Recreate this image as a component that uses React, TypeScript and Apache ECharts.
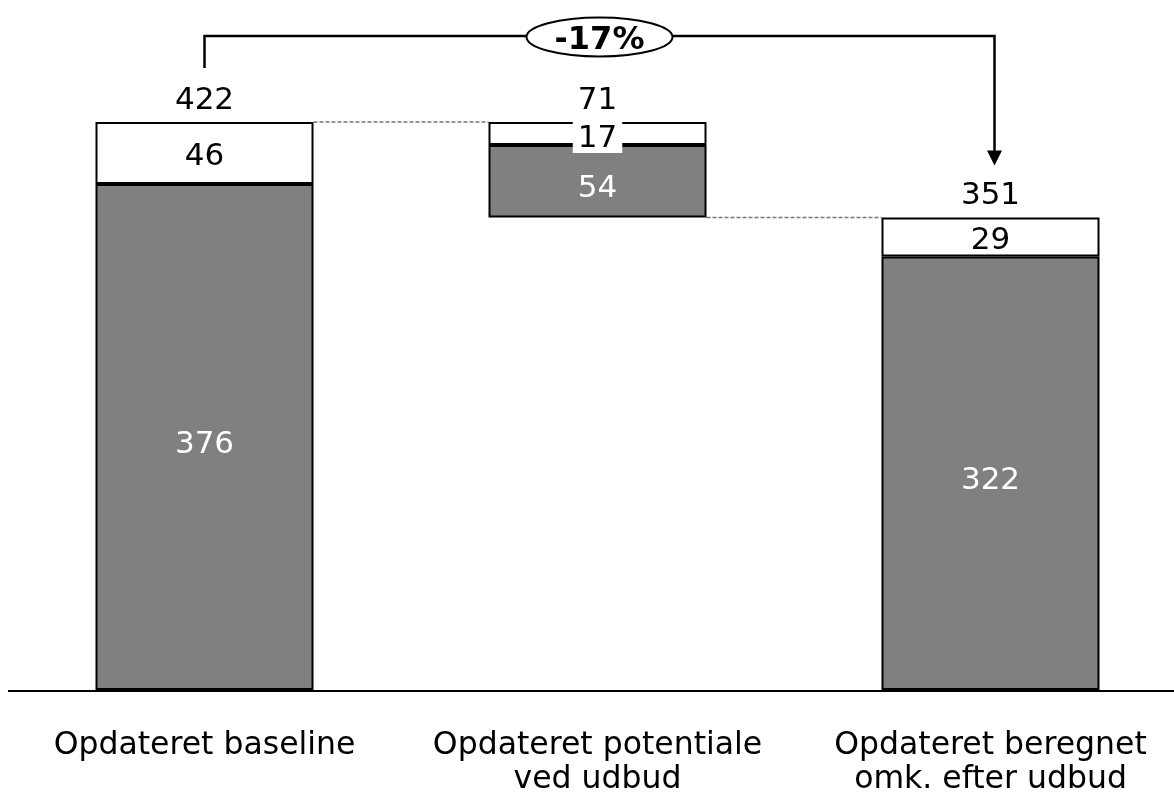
import React, { useEffect, useRef } from 'react';
import * as echarts from 'echarts';

const categories = ['Opdateret baseline', 'Opdateret potentiale\nved udbud', 'Opdateret beregnet\nomk. efter udbud'];
const baseValues = [0, 351, 0];
const coreValues = [376, 54, 322];
const topValues = [46, 17, 29];
const totalLabels = [422, 71, 351];
const changeLabel = '-17%';

const FONT = 'DejaVu Sans';
const NUM_SIZE = 31;

export default function App() {
  const ref = useRef<HTMLDivElement>(null);
  useEffect(() => {
    if (!ref.current) return;
    const chart = echarts.init(ref.current, undefined, { renderer: 'svg' });
    const barWidth = 218;
    chart.setOption({
      animation: false,
      grid: { left: 8, top: 122, width: 1179, height: 568, containLabel: false, outerBoundsMode: 'none' },
      xAxis: {
        type: 'category',
        data: categories,
        axisLine: { show: false },
        axisTick: { show: false },
        axisLabel: { interval: 0, color: '#000', fontFamily: FONT, fontSize: 31.5, lineHeight: 34, margin: 36 },
      },
      yAxis: { type: 'value', min: 0, max: 422, show: false, splitLine: { show: false } },
      series: [
        {
          type: 'bar', stack: 'w', data: baseValues, barWidth,
          itemStyle: { color: 'transparent' }, silent: true,
        },
        {
          type: 'bar', stack: 'w', data: coreValues, barWidth,
          itemStyle: { color: '#808080', borderColor: '#000', borderWidth: 2 },
          label: { show: true, position: 'inside', color: '#fff', fontFamily: FONT, fontSize: NUM_SIZE, offset: [0, 5] },
        },
        {
          type: 'bar', stack: 'w', barWidth,
          data: topValues.map((v, i) => i === 1 ? {
            value: v,
            label: { backgroundColor: '#fff', padding: [1, 5, 1, 5], offset: [0, 3] },
          } : v),
          itemStyle: { color: '#fff', borderColor: '#000', borderWidth: 2 },
          label: { show: true, position: 'inside', color: '#000', fontFamily: FONT, fontSize: NUM_SIZE, offset: [0, 1] },
        },
        {
          type: 'bar', stack: 'w', barWidth, data: totalLabels.map(() => 0),
          itemStyle: { color: 'transparent', borderWidth: 0 }, silent: true,
          label: {
            show: true, position: 'top', distance: 9, color: '#000', fontFamily: FONT, fontSize: NUM_SIZE,
            formatter: (p: any) => String(totalLabels[p.dataIndex]),
          },
        },
      ],
    });
    const px = (i: number, v: number) => chart.convertToPixel({ xAxisIndex: 0, yAxisIndex: 0 }, [i, v]) as number[];
    const a = px(0, baseValues[0] + coreValues[0] + topValues[0]);
    const b = px(1, baseValues[1] + coreValues[1] + topValues[1]);
    const bLow = px(1, baseValues[1]);
    const c = px(2, baseValues[2] + coreValues[2] + topValues[2]);
    const zero = px(0, 0);
    const half = barWidth / 2;
    const topY = 36;
    const arrowX = c[0] + 4;
    const tipY = c[1] - 52;
    chart.setOption({
      graphic: [
        { type: 'line', shape: { x1: 8, y1: zero[1] + 1, x2: 1174, y2: zero[1] + 1 }, style: { stroke: '#000', lineWidth: 2 } },
        { type: 'line', shape: { x1: a[0] + half, y1: a[1], x2: b[0] - half, y2: b[1] }, style: { stroke: '#777', lineWidth: 1.5, lineDash: [4, 2] } },
        { type: 'line', shape: { x1: bLow[0] + half, y1: bLow[1], x2: c[0] - half, y2: c[1] }, style: { stroke: '#777', lineWidth: 1.5, lineDash: [4, 2] } },
        { type: 'polyline', shape: { points: [[a[0], a[1] - 54], [a[0], topY], [arrowX, topY], [arrowX, tipY - 14]] }, style: { stroke: '#000', lineWidth: 2.5, fill: null } },
        { type: 'polygon', shape: { points: [[arrowX - 7.5, tipY - 15], [arrowX + 7.5, tipY - 15], [arrowX, tipY]] }, style: { fill: '#000' } },
        { type: 'ellipse', shape: { cx: b[0] + 2, cy: 37, rx: 73, ry: 19.5 }, style: { fill: '#fff', stroke: '#000', lineWidth: 2 } },
        { type: 'text', x: b[0] + 2, y: 38, style: { text: changeLabel, fontFamily: FONT, fontSize: 32, fontWeight: 'bold', fill: '#000', align: 'center', verticalAlign: 'middle' } },
      ],
    });
    return () => chart.dispose();
  }, []);
  return <div ref={ref} style={{ position: 'fixed', left: 0, top: 0, width: 1174, height: 796, overflow: 'hidden' }} />;
}
